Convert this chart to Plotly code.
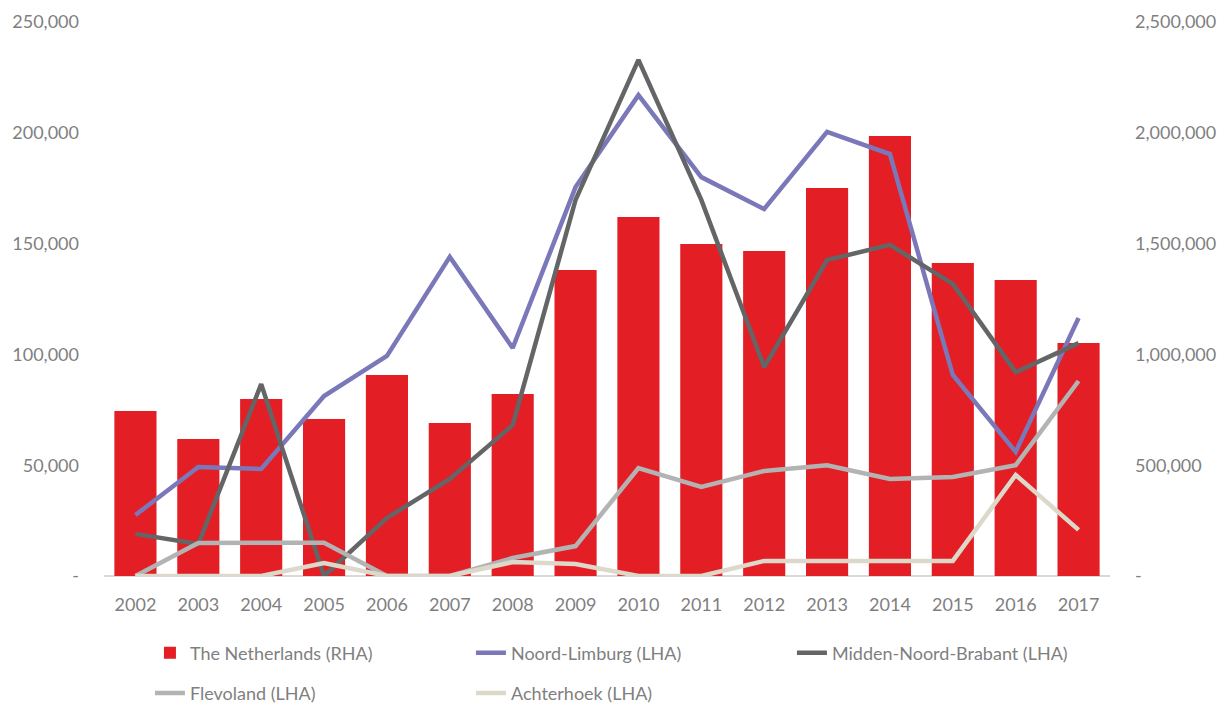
import plotly.graph_objects as go

years = [str(y) for y in range(2002, 2018)]

netherlands = [745000, 618000, 799000, 708000, 907000, 690000, 821000, 1381000,
               1620000, 1498000, 1467000, 1751000, 1986000, 1412000, 1336000, 1051000]
noord_limburg = [27500, 49200, 48300, 81200, 99300, 144000, 102900, 175500,
                 217000, 180000, 165600, 200400, 190400, 90700, 56000, 116400]
midden_noord_brabant = [19000, 14400, 86600, 0, 26200, 43800, 68100, 169700,
                        232900, 169700, 94300, 142600, 149400, 131800, 92000, 105100]
flevoland = [0, 14900, 15000, 15000, 0, 0, 8100, 13500,
             48700, 40200, 47400, 50000, 43800, 44700, 50000, 88000]
achterhoek = [0, 0, 0, 5900, 0, 0, 6300, 5400,
              0, 0, 6800, 6800, 6800, 6800, 45600, 20800]

left_ticks = [0, 50000, 100000, 150000, 200000, 250000]
left_labels = ["-", "50,000", "100,000", "150,000", "200,000", "250,000"]
right_ticks = [0, 500000, 1000000, 1500000, 2000000, 2500000]
right_labels = ["-", "500,000", "1,000,000", "1,500,000", "2,000,000", "2,500,000"]

grey = "#7f7f7f"
font = "Lato"
fsize = 18

fig = go.Figure()

# bars on the right-hand axis (drawn underneath the lines)
fig.add_trace(go.Bar(x=years, y=netherlands, name="The Netherlands (RHA)",
                     marker=dict(color="#E31E24", line=dict(width=0)),
                     yaxis="y", legend="legend"))

lines = [
    ("Noord-Limburg (LHA)", noord_limburg, "#7B78B9", "legend"),
    ("Midden-Noord-Brabant (LHA)", midden_noord_brabant, "#646567", "legend"),
    ("Flevoland (LHA)", flevoland, "#B3B3B3", "legend2"),
    ("Achterhoek (LHA)", achterhoek, "#DDD9CA", "legend2"),
]
for name, vals, col, lg in lines:
    fig.add_trace(go.Scatter(x=years, y=vals, name=name, mode="lines",
                             line=dict(color=col, width=4.5), yaxis="y2", legend=lg))

legend_style = dict(orientation="h", xref="container", yref="container",
                    xanchor="left", yanchor="middle",
                    entrywidth=276, entrywidthmode="pixels",
                    font=dict(size=fsize, color=grey, family=font))

# page body adds an 8px offset, margins compensate
fig.update_layout(
    width=1231, height=705,
    paper_bgcolor="white", plot_bgcolor="white",
    margin=dict(l=96, r=129, t=14, b=137, autoexpand=False),
    font=dict(family=font, size=fsize, color=grey),
    bargap=0.33,
    xaxis=dict(showgrid=False, showline=False, ticks="", ticklabelstandoff=16,
               automargin=False, tickfont=dict(size=fsize, color=grey)),
    yaxis=dict(side="right", range=[0, 2500000], tickvals=right_ticks, ticktext=right_labels,
               showgrid=False, zeroline=True, zerolinecolor="#D9D9D9", zerolinewidth=1.5,
               automargin=False, ticklabelstandoff=24, tickfont=dict(size=fsize, color=grey)),
    yaxis2=dict(side="left", overlaying="y", range=[0, 250000], tickvals=left_ticks,
                ticktext=left_labels, showgrid=False, zeroline=False, automargin=False,
                ticklabelstandoff=24, tickfont=dict(size=fsize, color=grey)),
    legend=dict(x=0.1153, y=0.085, **legend_style),
    legend2=dict(x=0.1153, y=0.028, **legend_style),
    showlegend=True,
)

fig.write_html("out.html")
